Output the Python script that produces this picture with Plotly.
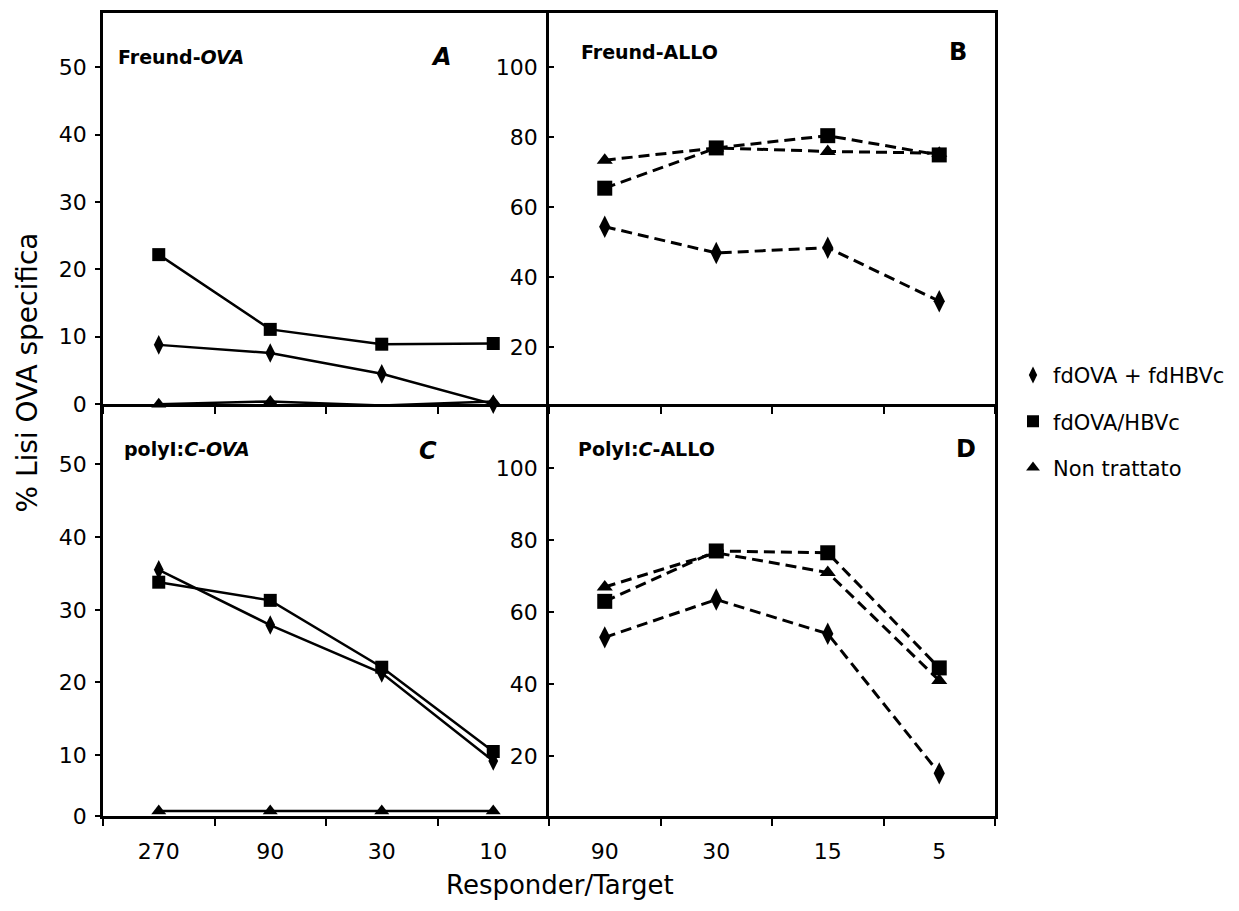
import plotly.graph_objects as go

# ---------------- data ----------------
cats_left = ["270", "90", "30", "10"]
cats_right = ["90", "30", "15", "5"]

series_names = ["fdOVA + fdHBVc", "fdOVA/HBVc", "Non trattato"]

A_diamond = [8.8, 7.6, 4.5, 0.0]
A_square = [22.2, 11.1, 8.9, 9.0]
A_triangle = [0.0, 0.4, -0.2, 0.4]

B_diamond = [54.5, 47.0, 48.5, 33.2]
B_square = [65.5, 77.0, 80.5, 75.0]
B_triangle = [73.5, 77.0, 76.0, 75.5]

C_diamond = [35.5, 27.9, 21.3, 9.2]
C_square = [33.8, 31.3, 22.1, 10.5]
C_triangle = [2.3, 2.3, 2.3, 2.3]

D_diamond = [53.0, 63.5, 54.0, 15.2]
D_square = [63.0, 77.0, 76.5, 44.5]
D_triangle = [67.0, 76.5, 71.0, 41.0]

panel_titles = ["<b>Freund-<i>OVA</i></b>", "<b>Freund-ALLO</b>",
                "<b>polyI:<i>C-OVA</i></b>", "<b>PolyI:<i>C</i>-ALLO</b>"]
panel_letters = ["<b><i>A</i></b>", "<b>B</b>", "<b><i>C</i></b>", "<b>D</b>"]

# ---------------- geometry ----------------
FONT = "DejaVu Sans"
W, H = 1239, 911
def fx(p):
    return p / W
def fy(p):
    return 1 - p / H

XL, XM, XR = 103, 549, 995
YT, YM, YB = 13, 410, 828

symbols = ["diamond-tall", "square", "triangle-up"]
sizes_small = [14, 13, 13]
sizes_big = [16, 15, 14]

fig = go.Figure()

panels = [
    ("x", "y", cats_left, [A_diamond, A_square, A_triangle], "solid", sizes_small, 2.5),
    ("x2", "y2", cats_right, [B_diamond, B_square, B_triangle], "11px,6px", sizes_big, 3),
    ("x3", "y3", cats_left, [C_diamond, C_square, C_triangle], "solid", sizes_small, 2.5),
    ("x4", "y4", cats_right, [D_diamond, D_square, D_triangle], "11px,6px", sizes_big, 3),
]

for xa, ya, cats, vals, dash, sizes, lw in panels:
    for i in [2, 1, 0]:
        fig.add_trace(go.Scatter(
            x=cats, y=vals[i], xaxis=xa, yaxis=ya, mode="lines+markers",
            line=dict(color="black", width=lw, dash=dash),
            marker=dict(symbol=symbols[i], size=sizes[i], color="black"),
            cliponaxis=False, showlegend=False, name=series_names[i],
        ))

# legend-only entries
for i in range(3):
    fig.add_trace(go.Scatter(
        x=[None], y=[None], xaxis="x", yaxis="y", mode="markers",
        marker=dict(symbol=symbols[i], size=12, color="black"),
        name=series_names[i], legendgroup=f"g{i}", showlegend=True,
    ))

axis_common = dict(showgrid=False, zeroline=False, showline=True, linecolor="black",
                   linewidth=2.5, tickcolor="black", tickwidth=2, layer="below traces",
                   tickfont=dict(family=FONT, size=22, color="black"))

def xaxis(domain, anchor, cats, labels, mirror):
    d = dict(axis_common)
    d.update(domain=domain, anchor=anchor, type="category", categoryorder="array",
             categoryarray=cats, range=[-0.5, 3.5], tickson="boundaries",
             ticks="outside", ticklen=7, showticklabels=labels, mirror=mirror,
             ticklabelstandoff=14)
    return d

def yaxis(domain, anchor, rng, tv, tt, ticks, mirror):
    d = dict(axis_common)
    d.update(domain=domain, anchor=anchor, range=rng, tickmode="array", tickvals=tv,
             ticktext=tt, ticks=ticks, ticklen=5, mirror=mirror, ticklabelstandoff=4)
    return d

dom_xl = [fx(XL), fx(XM)]
dom_xr = [fx(XM), fx(XR)]
dom_yt = [fy(YM), fy(YT)]
dom_yb = [fy(YB), fy(YM)]

fig.update_layout(
    width=W, height=H, margin=dict(l=0, r=0, t=0, b=0),
    paper_bgcolor="white", plot_bgcolor="rgba(0,0,0,0)",
    font=dict(family=FONT, color="black"),
    xaxis=xaxis(dom_xl, "y", cats_left, False, True),
    xaxis2=xaxis(dom_xr, "y2", cats_right, False, True),
    xaxis3=xaxis(dom_xl, "y3", cats_left, True, False),
    xaxis4=xaxis(dom_xr, "y4", cats_right, True, False),
    yaxis=yaxis(dom_yt, "x", [0, 58.1], [0, 10, 20, 30, 40, 50],
                ["0", "10", "20", "30", "40", "50"], "outside", False),
    yaxis2=yaxis(dom_yt, "x2", [3.8, 115.6], [20, 40, 60, 80, 100],
                 ["20", "40", "60", "80", "100"], "inside", True),
    yaxis3=yaxis(dom_yb, "x3", [1.6, 58.3], [1.6, 10, 20, 30, 40, 50],
                 ["0", "10", "20", "30", "40", "50"], "outside", False),
    yaxis4=yaxis(dom_yb, "x4", [3.3, 117.8], [20, 40, 60, 80, 100],
                 ["20", "40", "60", "80", "100"], "inside", True),
    legend=dict(x=fx(1013), y=fy(360), xanchor="left", yanchor="top",
                font=dict(family=FONT, size=21, color="black"),
                tracegroupgap=16, bgcolor="rgba(0,0,0,0)"),
)

# panel titles and letters
title_pos = [(116, 58), (579, 53), (122, 455), (576, 455)]
letter_pos = [(441, 58), (958, 53), (428, 458), (966, 456)]
for t, (px_, py_) in zip(panel_titles, title_pos):
    fig.add_annotation(x=fx(px_), y=fy(py_), xref="paper", yref="paper", text=t,
                       showarrow=False, xanchor="left", yanchor="middle",
                       font=dict(family=FONT, size=19, color="black"))
for t, (px_, py_) in zip(panel_letters, letter_pos):
    fig.add_annotation(x=fx(px_), y=fy(py_), xref="paper", yref="paper", text=t,
                       showarrow=False, xanchor="center", yanchor="middle",
                       font=dict(family=FONT, size=24, color="black"))

fig.add_annotation(x=fx(28), y=fy(378), xref="paper", yref="paper",
                   text="% Lisi OVA specifica", textangle=-90, showarrow=False,
                   xanchor="center", yanchor="middle",
                   font=dict(family=FONT, size=28, color="black"))
fig.add_annotation(x=fx(560), y=fy(898), xref="paper", yref="paper",
                   text="Responder/Target", showarrow=False,
                   xanchor="center", yanchor="middle",
                   font=dict(family=FONT, size=26, color="black"))

fig.write_html("out.html")
